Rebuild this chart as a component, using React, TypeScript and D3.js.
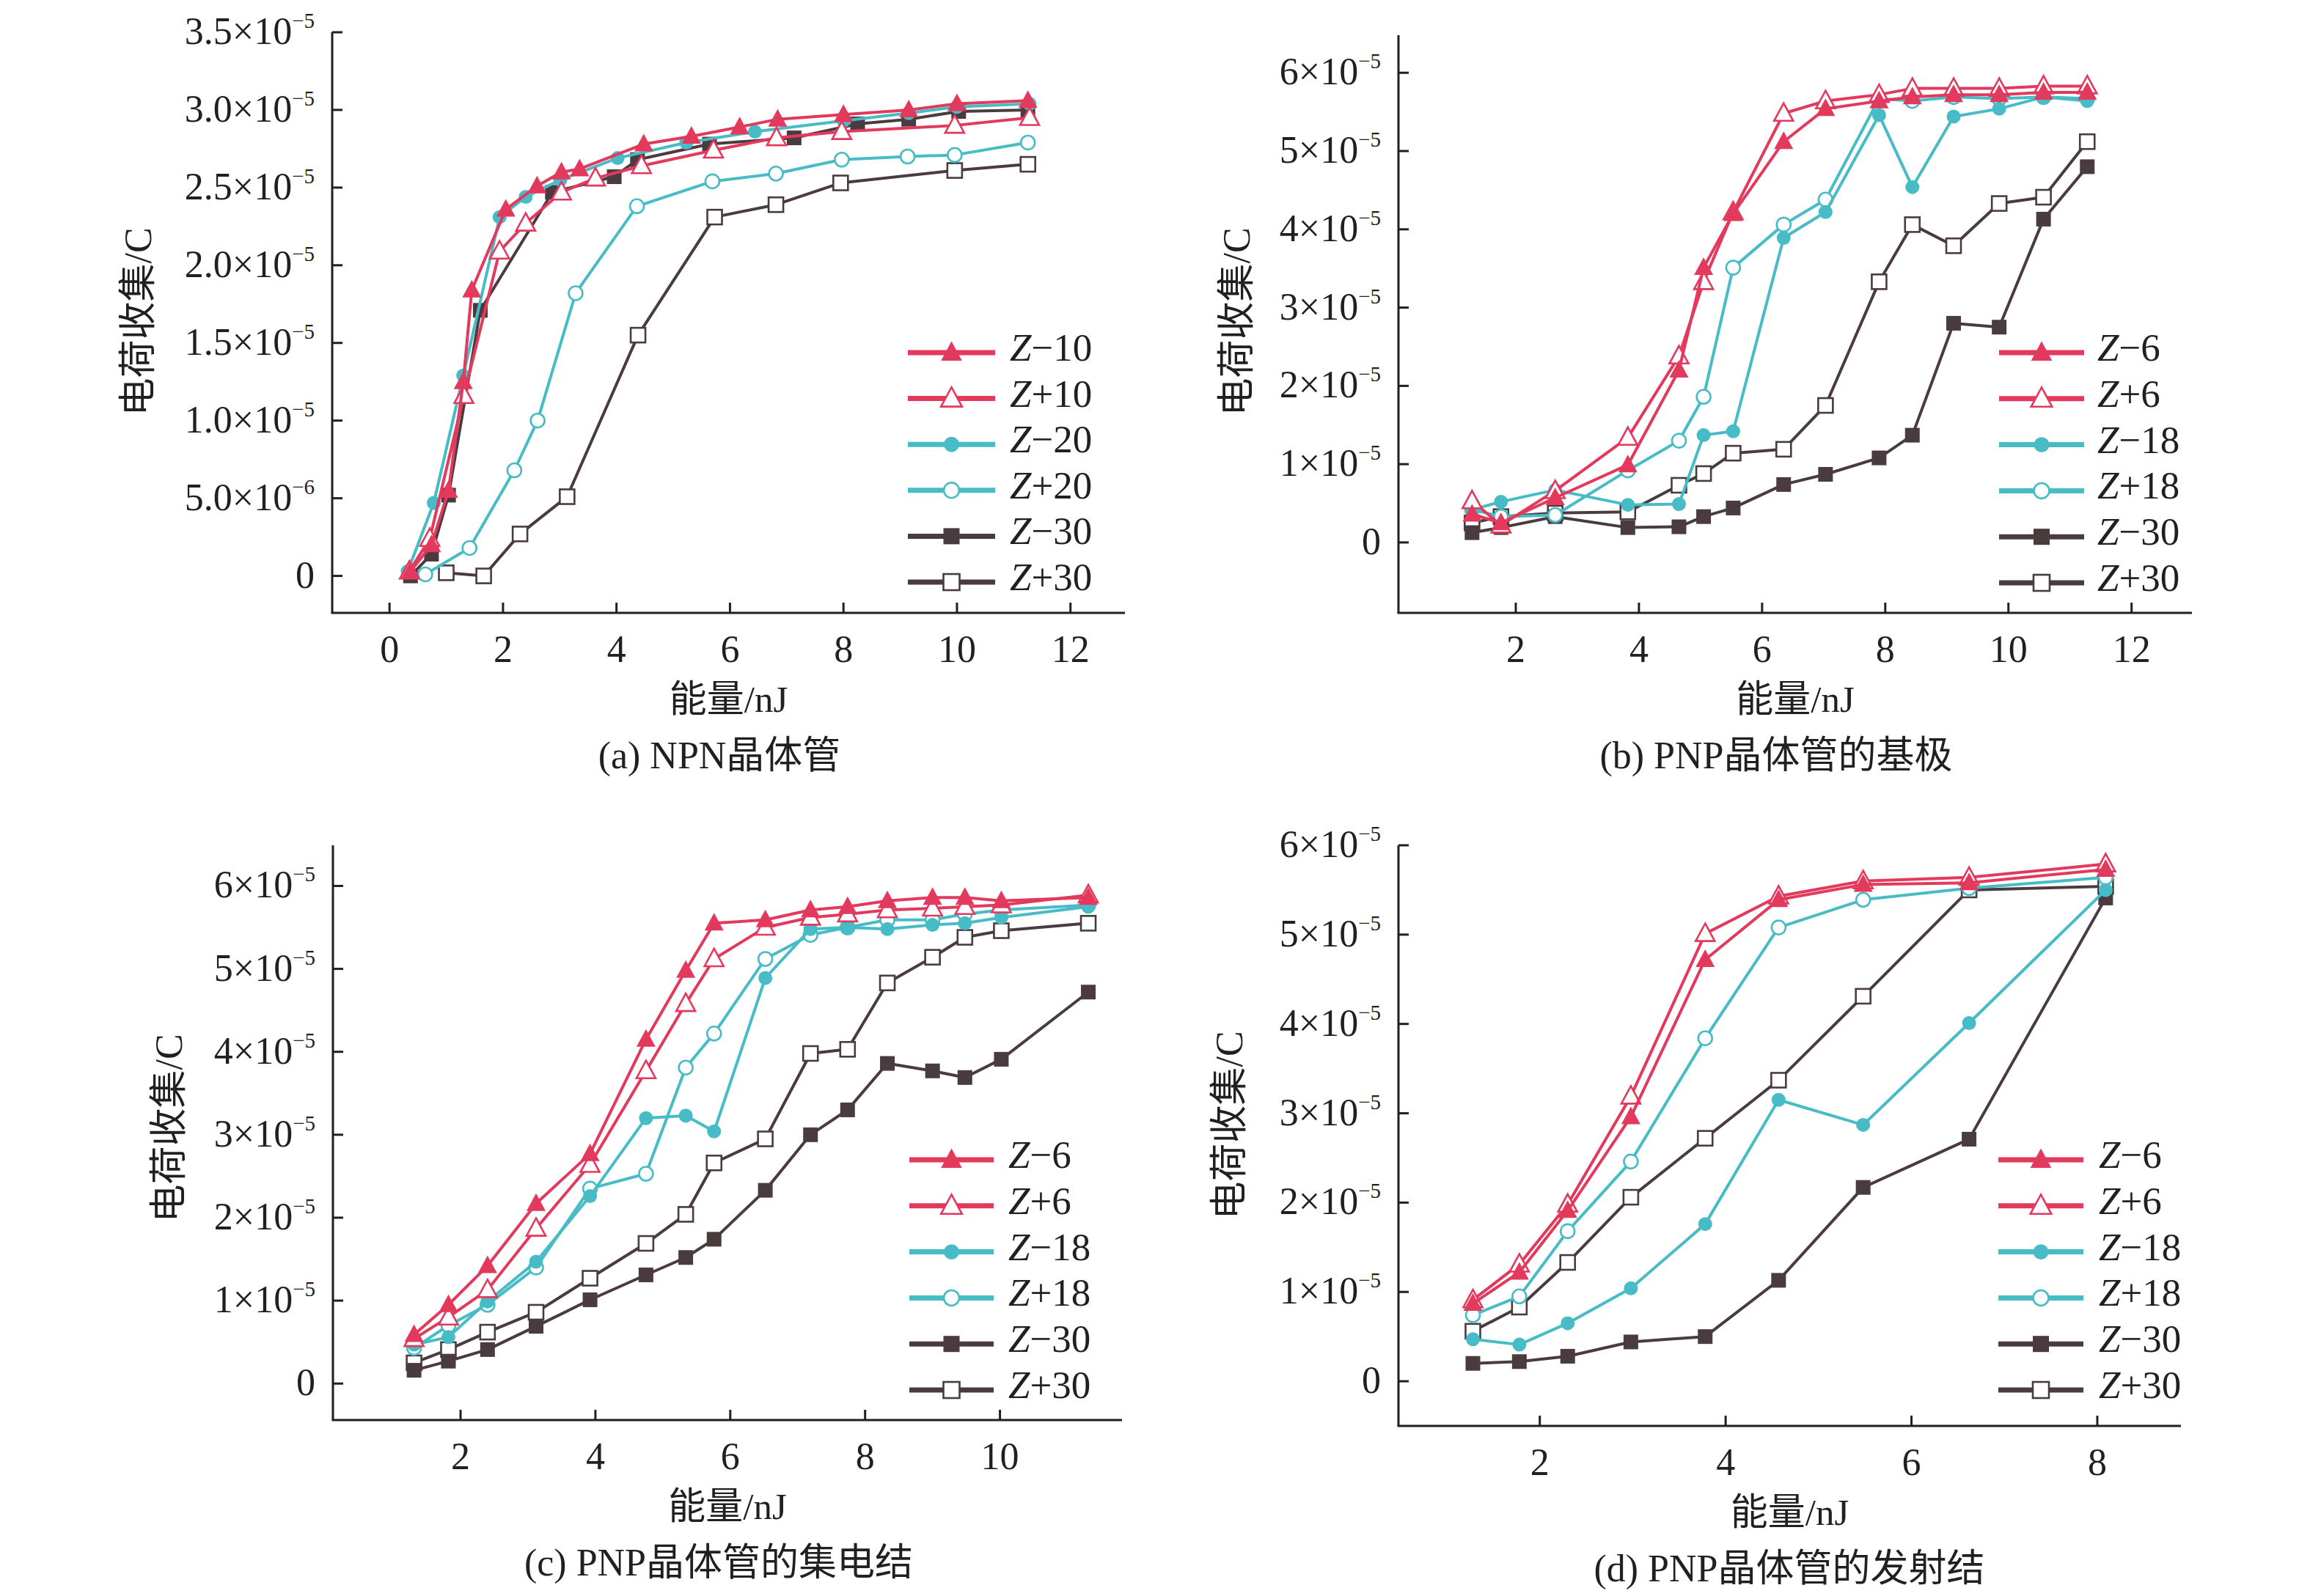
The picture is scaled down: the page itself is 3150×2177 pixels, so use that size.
import React from 'react';
import * as d3 from 'd3';

type Pt = [number, number];

const RED = '#e2395d';
const CYAN = '#48bcc6';
const DARK = '#4a3b3f';
const INK = '#231f20';
const FONT = "'Liberation Serif', 'Times New Roman', 'Noto Sans CJK SC', serif";

// ---------- Panel (a) NPN ----------
const aXTicks = [0, 2, 4, 6, 8, 10, 12];
const aYTicks = [0, 0.5, 1, 1.5, 2, 2.5, 3, 3.5];
const aYLabels: [string, string][] = [
  ['0', ''], ['5.0×10', '−6'], ['1.0×10', '−5'], ['1.5×10', '−5'],
  ['2.0×10', '−5'], ['2.5×10', '−5'], ['3.0×10', '−5'], ['3.5×10', '−5'],
];
const aNames = ['−10', '+10', '−20', '+20', '−30', '+30'];
const aZm10: Pt[] = [[0.37, 0.03], [0.74, 0.2], [1.04, 0.55], [1.3, 1.25], [1.45, 1.84], [2.05, 2.36], [2.6, 2.51], [3.03, 2.6], [3.35, 2.62], [4.48, 2.78], [5.32, 2.83], [6.17, 2.89], [6.84, 2.94], [8.0, 2.97], [9.15, 3.0], [10.0, 3.04], [11.25, 3.06]];
const aZp10: Pt[] = [[0.35, 0.03], [0.71, 0.24], [1.31, 1.16], [1.94, 2.09], [2.4, 2.27], [3.03, 2.47], [3.63, 2.56], [4.44, 2.64], [5.71, 2.74], [6.82, 2.82], [7.97, 2.86], [9.96, 2.9], [11.28, 2.95]];
const aZm20: Pt[] = [[0.32, 0.03], [0.78, 0.47], [1.3, 1.29], [1.94, 2.31], [2.4, 2.44], [3.01, 2.55], [4.02, 2.69], [5.23, 2.79], [6.44, 2.86], [8.0, 2.93], [9.15, 2.98], [10.0, 3.02], [11.28, 3.04]];
const aZp20: Pt[] = [[0.63, 0.01], [1.41, 0.18], [2.2, 0.68], [2.61, 1.0], [3.28, 1.82], [4.36, 2.38], [5.69, 2.54], [6.81, 2.59], [7.97, 2.68], [9.13, 2.7], [9.96, 2.71], [11.25, 2.79]];
const aZm30: Pt[] = [[0.37, 0.0], [0.74, 0.14], [1.04, 0.52], [1.6, 1.71], [2.87, 2.47], [3.96, 2.57], [4.37, 2.68], [5.64, 2.78], [7.13, 2.82], [8.25, 2.91], [9.15, 2.94], [10.03, 2.99], [11.25, 3.0]];
const aZp30: Pt[] = [[1.0, 0.02], [1.66, 0.0], [2.3, 0.27], [3.13, 0.51], [4.38, 1.55], [5.73, 2.31], [6.81, 2.39], [7.95, 2.53], [9.96, 2.61], [11.25, 2.65]];

// ---------- shared tick labels for (b)(c)(d) ----------
const pnpYTicks = [0, 1, 2, 3, 4, 5, 6];
const pnpYLabels: [string, string][] = [
  ['0', ''], ['1×10', '−5'], ['2×10', '−5'], ['3×10', '−5'], ['4×10', '−5'], ['5×10', '−5'], ['6×10', '−5'],
];
const pnpNames = ['−6', '+6', '−18', '+18', '−30', '+30'];

// ---------- Panel (b) PNP base ----------
const bXTicks = [2, 4, 6, 8, 10, 12];
const bX = [1.29, 1.76, 2.64, 3.82, 4.65, 5.05, 5.53, 6.35, 7.03, 7.9, 8.44, 9.11, 9.85, 10.57, 11.28];
const bZm6 = [0.36, 0.25, 0.57, 0.99, 2.2, 3.51, 4.2, 5.12, 5.54, 5.64, 5.69, 5.72, 5.72, 5.75, 5.75];
const bZp6 = [0.53, 0.22, 0.66, 1.34, 2.38, 3.33, 4.22, 5.48, 5.64, 5.72, 5.8, 5.8, 5.8, 5.83, 5.83];
const bZm18 = [0.42, 0.52, 0.67, 0.48, 0.49, 1.37, 1.42, 3.89, 4.22, 5.46, 4.54, 5.44, 5.54, 5.69, 5.64];
const bZp18 = [0.42, 0.33, 0.35, 0.92, 1.3, 1.86, 3.51, 4.06, 4.38, 5.67, 5.64, 5.69, 5.67, 5.69, 5.67];
const bZm30 = [0.125, 0.19, 0.33, 0.19, 0.2, 0.33, 0.44, 0.74, 0.87, 1.08, 1.37, 2.8, 2.75, 4.13, 4.8];
const bZp30 = [0.25, 0.33, 0.375, 0.39, 0.73, 0.88, 1.14, 1.19, 1.75, 3.33, 4.06, 3.79, 4.33, 4.41, 5.12];

// ---------- Panel (c) PNP collector ----------
const cXTicks = [2, 4, 6, 8, 10];
const cX = [1.31, 1.82, 2.4, 3.12, 3.92, 4.75, 5.34, 5.76, 6.52, 7.19, 7.74, 8.33, 9.0, 9.48, 10.02, 11.31];
const cZm6 = [0.59, 0.95, 1.42, 2.17, 2.77, 4.15, 4.98, 5.55, 5.59, 5.71, 5.75, 5.82, 5.86, 5.86, 5.82, 5.86];
const cZp6 = [0.54, 0.8, 1.13, 1.87, 2.64, 3.77, 4.58, 5.12, 5.5, 5.62, 5.66, 5.71, 5.73, 5.75, 5.77, 5.89];
const cZm18 = [0.47, 0.56, 0.99, 1.47, 2.26, 3.2, 3.23, 3.04, 4.89, 5.48, 5.5, 5.48, 5.53, 5.55, 5.62, 5.75];
const cZp18 = [0.43, 0.7, 0.95, 1.4, 2.35, 2.53, 3.81, 4.22, 5.12, 5.41, 5.5, 5.59, 5.59, 5.66, 5.71, 5.77];
const cZm30 = [0.16, 0.27, 0.41, 0.69, 1.01, 1.31, 1.52, 1.74, 2.33, 3.0, 3.3, 3.86, 3.77, 3.69, 3.91, 4.72];
const cZp30 = [0.25, 0.41, 0.62, 0.86, 1.27, 1.69, 2.04, 2.66, 2.95, 3.98, 4.03, 4.83, 5.14, 5.38, 5.46, 5.55];

// ---------- Panel (d) PNP emitter ----------
const dXTicks = [2, 4, 6, 8];
const dX = [1.28, 1.78, 2.3, 2.98, 3.78, 4.57, 5.48, 6.62, 8.09];
const dZm6 = [0.87, 1.22, 1.91, 2.96, 4.72, 5.39, 5.56, 5.58, 5.73];
const dZp6 = [0.91, 1.31, 1.98, 3.19, 5.01, 5.43, 5.6, 5.64, 5.79];
const dZm18 = [0.47, 0.41, 0.65, 1.04, 1.76, 3.15, 2.87, 4.01, 5.5];
const dZp18 = [0.74, 0.95, 1.68, 2.46, 3.84, 5.08, 5.39, 5.52, 5.64];
const dZm30 = [0.2, 0.22, 0.28, 0.44, 0.5, 1.13, 2.17, 2.71, 5.41];
const dZp30 = [0.56, 0.83, 1.33, 2.06, 2.72, 3.37, 4.31, 5.5, 5.54];

const zip = (xs: number[], ys: number[]): Pt[] => xs.map((v, i) => [v, ys[i]] as Pt);

interface PanelCfg {
  xDomain: [number, number]; xRange: [number, number];
  yDomain: [number, number]; yRange: [number, number];
  xTicks: number[]; yTicks: number[]; yLabels: [string, string][];
  series: Pt[][]; names: string[];
  yTitle: [number, number]; caption: string; captionX: number;
  legend: { x1: number; x2: number; tx: number; y0: number; dy: number };
}

const STYLES = [
  { color: RED, shape: 'tri', filled: true },
  { color: RED, shape: 'tri', filled: false },
  { color: CYAN, shape: 'circ', filled: true },
  { color: CYAN, shape: 'circ', filled: false },
  { color: DARK, shape: 'sq', filled: true },
  { color: DARK, shape: 'sq', filled: false },
];

function Marker({ cx, cy, k, scale = 1 }: { cx: number; cy: number; k: number; scale?: number }) {
  const st = STYLES[k];
  const fill = st.filled ? st.color : '#ffffff';
  const sw = st.filled ? 0 : 2.6;
  if (st.shape === 'tri') {
    const w = 13 * scale;
    const p = `M${cx},${cy - 14 * scale}L${cx + w},${cy + 10 * scale}L${cx - w},${cy + 10 * scale}Z`;
    return <path d={p} fill={fill} stroke={st.color} strokeWidth={sw} />;
  }
  if (st.shape === 'circ') {
    return <circle cx={cx} cy={cy} r={9.5 * scale} fill={fill} stroke={st.color} strokeWidth={sw} />;
  }
  const h = 10 * scale;
  return <rect x={cx - h} y={cy - h} width={2 * h} height={2 * h} fill={fill} stroke={st.color} strokeWidth={sw} />;
}

function Panel({ cfg }: { cfg: PanelCfg }) {
  const x = d3.scaleLinear().domain(cfg.xDomain).range(cfg.xRange);
  const y = d3.scaleLinear().domain(cfg.yDomain).range(cfg.yRange);
  const line = d3.line<Pt>().x(d => x(d[0])).y(d => y(d[1]));
  const [xl, xr] = cfg.xRange;
  const [yb, yt] = cfg.yRange;
  const order = [5, 4, 3, 2, 1, 0];
  const xMid = (xl + xr) / 2;
  return (
    <g fontFamily={FONT} fill={INK}>
      {order.map(k => (
        <g key={k}>
          <path d={line(cfg.series[k]) || ''} fill="none" stroke={STYLES[k].color} strokeWidth={4} strokeLinejoin="round" />
          {cfg.series[k].map((d, i) => <Marker key={i} cx={x(d[0])} cy={y(d[1])} k={k} />)}
        </g>
      ))}
      <line x1={xl} y1={yb} x2={xl} y2={yt} stroke={INK} strokeWidth={3} />
      <line x1={xl - 1.5} y1={yb} x2={xr} y2={yb} stroke={INK} strokeWidth={3} />
      {cfg.yTicks.map((v, i) => (
        <g key={'y' + i}>
          <line x1={xl} x2={xl + 14} y1={y(v)} y2={y(v)} stroke={INK} strokeWidth={3} />
          <text x={xl - 24} y={y(v) + 16} textAnchor="end" fontSize={52}>
            <tspan>{cfg.yLabels[i][0]}</tspan>
            {cfg.yLabels[i][1] ? <tspan fontSize={29} dy={-22}>{cfg.yLabels[i][1]}</tspan> : null}
          </text>
        </g>
      ))}
      {cfg.xTicks.map((v, i) => (
        <g key={'x' + i}>
          <line x1={x(v)} x2={x(v)} y1={yb} y2={yb - 14} stroke={INK} strokeWidth={3} />
          <text x={x(v)} y={yb + 67} textAnchor="middle" fontSize={52}>{v}</text>
        </g>
      ))}
      <text x={xMid} y={yb + 135} textAnchor="middle" fontSize={51}>能量/nJ</text>
      <text transform={`translate(${cfg.yTitle[0]},${cfg.yTitle[1]}) rotate(-90)`} textAnchor="middle" dominantBaseline="central" fontSize={52}>电荷收集/C</text>
      <text x={cfg.captionX} y={yb + 212} textAnchor="middle" fontSize={52}>{cfg.caption}</text>
      {cfg.names.map((n, k) => {
        const ly = cfg.legend.y0 + k * cfg.legend.dy;
        const mx = (cfg.legend.x1 + cfg.legend.x2) / 2;
        return (
          <g key={'l' + k}>
            <line x1={cfg.legend.x1} x2={cfg.legend.x2} y1={ly} y2={ly} stroke={STYLES[k].color} strokeWidth={7} />
            <Marker cx={mx} cy={ly} k={k} scale={1.1} />
            <text x={cfg.legend.tx} y={ly + 11} fontSize={53}>
              <tspan fontStyle="italic">Z</tspan>
              <tspan>{n}</tspan>
            </text>
          </g>
        );
      })}
    </g>
  );
}

const panels: PanelCfg[] = [
  {
    xDomain: [-1.01, 12.96], xRange: [453, 1534],
    yDomain: [-0.238, 3.5], yRange: [836, 44],
    xTicks: aXTicks, yTicks: aYTicks, yLabels: aYLabels,
    series: [aZm10, aZp10, aZm20, aZp20, aZm30, aZp30], names: aNames,
    yTitle: [188, 439], caption: '(a) NPN晶体管', captionX: 981,
    legend: { x1: 1238, x2: 1357, tx: 1377, y0: 481, dy: 62.6 },
  },
  {
    xDomain: [0.095, 12.98], xRange: [1907, 2989],
    yDomain: [-0.9, 6.48], yRange: [836, 48],
    xTicks: bXTicks, yTicks: pnpYTicks, yLabels: pnpYLabels,
    series: [zip(bX, bZm6), zip(bX, bZp6), zip(bX, bZm18), zip(bX, bZp18), zip(bX, bZm30), zip(bX, bZp30)], names: pnpNames,
    yTitle: [1686, 439], caption: '(b) PNP晶体管的基极', captionX: 2422,
    legend: { x1: 2726, x2: 2842, tx: 2860, y0: 481, dy: 62.8 },
  },
  {
    xDomain: [0.107, 11.81], xRange: [454, 1530],
    yDomain: [-0.44, 6.49], yRange: [1937, 1153],
    xTicks: cXTicks, yTicks: pnpYTicks, yLabels: pnpYLabels,
    series: [zip(cX, cZm6), zip(cX, cZp6), zip(cX, cZm18), zip(cX, cZp18), zip(cX, cZm30), zip(cX, cZp30)], names: pnpNames,
    yTitle: [230, 1539], caption: '(c) PNP晶体管的集电结', captionX: 980,
    legend: { x1: 1240, x2: 1355, tx: 1375, y0: 1582, dy: 62.8 },
  },
  {
    xDomain: [0.479, 8.9], xRange: [1907, 2974],
    yDomain: [-0.5, 6.0], yRange: [1945, 1153],
    xTicks: dXTicks, yTicks: pnpYTicks, yLabels: pnpYLabels,
    series: [zip(dX, dZm6), zip(dX, dZp6), zip(dX, dZm18), zip(dX, dZp18), zip(dX, dZm30), zip(dX, dZp30)], names: pnpNames,
    yTitle: [1676, 1535], caption: '(d) PNP晶体管的发射结', captionX: 2440,
    legend: { x1: 2725, x2: 2841, tx: 2862, y0: 1582, dy: 62.8 },
  },
];

export default function App() {
  return (
    <svg width={3150} height={2177} viewBox="0 0 3150 2177"
      style={{ position: 'absolute', left: 0, top: 0, display: 'block' }}>
      <rect x={0} y={0} width={3150} height={2177} fill="#ffffff" />
      {panels.map((p, i) => <Panel key={i} cfg={p} />)}
    </svg>
  );
}
